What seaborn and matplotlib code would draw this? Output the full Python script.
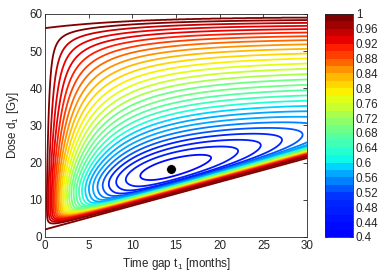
import numpy as np
import matplotlib
matplotlib.use("Agg")
import matplotlib.pyplot as plt
from matplotlib.colors import ListedColormap, Normalize
from matplotlib.cm import ScalarMappable
import seaborn as sns

# marked optimum
t_opt = [14.4]
d_opt = [18.4]

# contour levels / ticks
levels = np.round(np.arange(0.42, 1.0001, 0.02), 2)
x_ticks = [0, 5, 10, 15, 20, 25, 30]
y_ticks = [0, 10, 20, 30, 40, 50, 60]
cbar_ticks = [0.4, 0.44, 0.48, 0.52, 0.56, 0.6, 0.64, 0.68, 0.72, 0.76, 0.8, 0.84, 0.88, 0.92, 0.96, 1]
cbar_labels = ["0.4", "0.44", "0.48", "0.52", "0.56", "0.6", "0.64", "0.68",
               "0.72", "0.76", "0.8", "0.84", "0.88", "0.92", "0.96", "1"]

# colour scale: value -> position in jet
cmap_vals = [0.4, 0.5, 0.56, 0.6, 0.68, 0.72, 0.77, 0.84, 0.9, 1.0]
cmap_pos = [0.125, 0.17, 0.28, 0.36, 0.47, 0.54, 0.62, 0.72, 0.85, 1.0]

# response surface parameters
f_min = 0.425
t_c, d_c = 14.5, 18.6
ridge_slope = 0.6
a_time, t_shift, tau_left = 0.42, 2.0, 1.0
c_dose, e_dose = 0.0365, 4.0
low_d0, low_slope, tau_low = 2.0, 0.64, 2.0
top_d0, top_rise, top_scale, w_top = 56.2, 3.0, 10.0, 6.0


def surface():
    t = np.linspace(0, 30, 601)
    d = np.linspace(0, 60, 1201)
    T, D = np.meshgrid(t, d)
    x = np.log((T + t_shift) / (t_c + t_shift))
    h_t = np.exp(-a_time * x ** 2) * (1 - np.exp(-T / tau_left))
    v = D - (d_c + ridge_slope * (T - t_c))
    h_d = np.exp(-c_dose * (np.sqrt(v ** 2 + e_dose ** 2) - e_dose))
    s = D - (low_d0 + low_slope * T)
    g_low = 1 - np.exp(-(s / tau_low) ** 2)
    d_top = top_d0 + top_rise * (1 - np.exp(-T / top_scale))
    g_top = 1 - np.exp((D - d_top) / w_top)
    f = 1 - (1 - f_min) * h_t * h_d * g_low * g_top
    f[(s < 0) | (D > d_top)] = 1.5
    return t, d, f


sns.set_theme(style="white")
plt.rcParams["font.family"] = ["Liberation Sans", "DejaVu Sans"]
plt.rcParams["mathtext.fontset"] = "custom"
plt.rcParams["mathtext.rm"] = "Liberation Sans"
plt.rcParams["mathtext.it"] = "Liberation Sans"

grid = np.linspace(0.4, 1.0, 30)
jet = ListedColormap(plt.cm.jet(np.interp(grid, cmap_vals, cmap_pos)))
norm = Normalize(0.4, 1)

fig = plt.figure(figsize=(3.82, 2.73), dpi=100)
ax = fig.add_axes([0.118, 0.132, 0.686, 0.817])
cax = fig.add_axes([0.851, 0.132, 0.073, 0.817])

t, d, f = surface()
ax.contour(t, d, f, levels=levels, cmap=jet, norm=norm, linewidths=1.3)
sns.scatterplot(x=t_opt, y=d_opt, ax=ax, color="black", s=50, zorder=5, legend=False)

ax.set_xlim(0, 30)
ax.set_ylim(0, 60)
ax.set_xticks(x_ticks)
ax.set_yticks(y_ticks)
fs = 8.4
ax.tick_params(direction="in", length=3, width=0.6, labelsize=fs, pad=2,
               top=True, right=True, colors="#262626")
ax.set_xlabel("Time gap t$_1$ [months]", fontsize=fs, labelpad=3)
ax.set_ylabel("Dose d$_1$ [Gy]", fontsize=fs, labelpad=6)
for sp in ax.spines.values():
    sp.set_linewidth(0.6)
    sp.set_color("#262626")

cb = fig.colorbar(ScalarMappable(norm=norm, cmap=jet), cax=cax)
cb.set_ticks(cbar_ticks)
cb.set_ticklabels(cbar_labels)
cb.ax.tick_params(direction="in", length=2, width=0.5, labelsize=fs, pad=2, left=True)
cb.outline.set_linewidth(0.6)

fig.savefig("out.png", dpi=100)
